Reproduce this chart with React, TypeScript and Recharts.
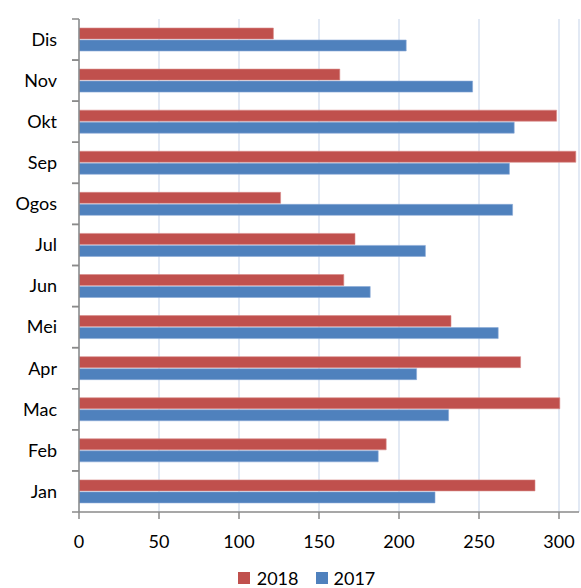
import React from "react";
import { BarChart, Bar, XAxis, YAxis, CartesianGrid, Legend } from "recharts";

const months = ["Jan", "Feb", "Mac", "Apr", "Mei", "Jun", "Jul", "Ogos", "Sep", "Okt", "Nov", "Dis"];
const values2018 = [285, 192, 300.5, 276, 232.5, 165.5, 172.5, 126, 310.5, 298.5, 163, 121.5];
const values2017 = [222.5, 187, 231, 211, 262, 182, 216.5, 271, 269, 272, 246, 204.5];
const xTicks = [0, 50, 100, 150, 200, 250, 300];

const data = months.map((m, i) => ({ month: m, y2018: values2018[i], y2017: values2017[i] }));

const W = 581;
const H = 588;
const MARGIN = { top: 19, right: 2, left: 0, bottom: 0 };
const X_AXIS_H = 56;
const LEGEND_H = 20;
const PLOT_H = H - MARGIN.top - MARGIN.bottom - X_AXIS_H - LEGEND_H;
const BAND = PLOT_H / months.length;
const FONT = "Lato, 'Open Sans', sans-serif";
const AXIS_COLOR = "#8a8a8a";

const YTick = (props: any) => {
  const { x, y, payload } = props;
  return (
    <g>
      <line x1={x + 15} x2={x + 22} y1={y - BAND / 2} y2={y - BAND / 2} stroke={AXIS_COLOR} strokeWidth={1.5} />
      <line x1={x + 15} x2={x + 22} y1={y + BAND / 2} y2={y + BAND / 2} stroke={AXIS_COLOR} strokeWidth={1.5} />
      <text x={x} y={y} dy="0.35em" textAnchor="end" fontFamily={FONT} fontSize={18} fill="#000">
        {payload.value}
      </text>
    </g>
  );
};

const LegendContent = () => (
  <div
    style={{
      display: "flex",
      justifyContent: "center",
      alignItems: "center",
      height: LEGEND_H,
      paddingLeft: 34,
      fontFamily: FONT,
      fontSize: 18,
      color: "#000",
    }}
  >
    <span style={{ display: "inline-block", width: 12, height: 12, background: "#C0504D", marginRight: 7 }} />
    <span style={{ marginRight: 17 }}>2018</span>
    <span style={{ display: "inline-block", width: 12, height: 12, background: "#4F81BD", marginRight: 6 }} />
    <span>2017</span>
  </div>
);

export default function App() {
  return (
    <div style={{ position: "absolute", left: 0, top: 0 }}>
      <BarChart
        width={W}
        height={H}
        data={data}
        layout="vertical"
        margin={MARGIN}
        barSize={11}
        barGap={1}
      >
        <CartesianGrid horizontal={false} vertical={true} stroke="#d9e2f0" strokeWidth={1.5} />
        <XAxis
          type="number"
          domain={[0, 312.5]}
          ticks={xTicks}
          interval={0}
          height={X_AXIS_H}
          tickSize={7}
          tickMargin={16}
          stroke={AXIS_COLOR}
          strokeWidth={1.5}
          tick={{ fontFamily: FONT, fontSize: 18, fill: "#000" }}
          allowDataOverflow
        />
        <YAxis
          type="category"
          dataKey="month"
          reversed
          width={79}
          tickSize={7}
          tickMargin={15}
          tickLine={false}
          stroke={AXIS_COLOR}
          strokeWidth={1.5}
          tick={<YTick />}
          interval={0}
        />
        <Legend verticalAlign="bottom" height={LEGEND_H} content={<LegendContent />} />
        <Bar dataKey="y2018" name="2018" fill="#C0504D" stroke="#d98b89" strokeWidth={0.6} isAnimationActive={false} />
        <Bar dataKey="y2017" name="2017" fill="#4F81BD" stroke="#8aaad6" strokeWidth={0.6} isAnimationActive={false} />
      </BarChart>
    </div>
  );
}
